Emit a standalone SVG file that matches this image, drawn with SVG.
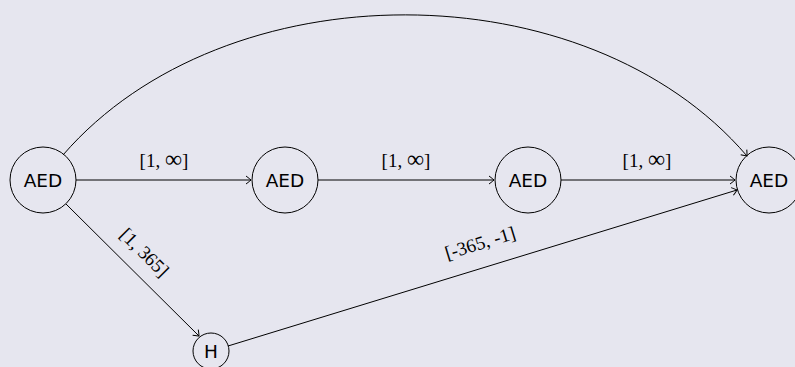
<svg xmlns="http://www.w3.org/2000/svg" width="795" height="367" viewBox="0 0 795 367">
<style>
.node circle{fill:none;stroke:#000;stroke-width:1}
.node text{font-family:"DejaVu Sans","Liberation Sans",sans-serif;font-size:18.5px;text-anchor:middle;dominant-baseline:central;fill:#000}
.edge{fill:none;stroke:#000;stroke-width:1;marker-end:url(#to)}
.lbl{font-family:"Liberation Serif","DejaVu Serif",serif;font-size:19px;text-anchor:middle;fill:#000}
.inf{font-size:24px}
</style>
<defs>
<marker id="to" viewBox="-6 -5 8 10" markerWidth="8" markerHeight="10" refX="0" refY="0" orient="auto" markerUnits="userSpaceOnUse">
<path d="M-5,-4 Q-1,-1 0,0 Q-1,1 -5,4" fill="none" stroke="#000" stroke-width="1"/>
</marker>
</defs>
<rect width="795" height="367" fill="#e6e6ef"/>
<g id="connectors">
<path class="edge" d="M63,155 C225,-32 586,-32 747,156"/>
<path class="edge" d="M76,180 L251,180"/>
<path class="edge" d="M318,180 L494,180"/>
<path class="edge" d="M561,180 L735,180"/>
<path class="edge" d="M66,204 L199,336"/>
<path class="edge" d="M228,346 L737,190"/>
<text class="lbl" x="164" y="167">[1, <tspan class="inf">∞</tspan>]</text>
<text class="lbl" x="406" y="167">[1, <tspan class="inf">∞</tspan>]</text>
<text class="lbl" x="647" y="167">[1, <tspan class="inf">∞</tspan>]</text>
<text class="lbl" transform="translate(140,257) rotate(45)">[1, 365]</text>
<text class="lbl" transform="translate(482,249) rotate(-17)">[-365, -1]</text>
</g>
<g id="n1" class="node"><circle cx="43" cy="180" r="33"/><text x="43" y="180">AED</text></g>
<g id="n2" class="node"><circle cx="285" cy="180" r="33"/><text x="285" y="180">AED</text></g>
<g id="n3" class="node"><circle cx="528" cy="180" r="33"/><text x="528" y="180">AED</text></g>
<g id="n4" class="node"><circle cx="769" cy="180" r="33"/><text x="769" y="180">AED</text></g>
<g id="h" class="node"><circle cx="211" cy="351" r="18"/><text x="211" y="351">H</text></g>
</svg>
